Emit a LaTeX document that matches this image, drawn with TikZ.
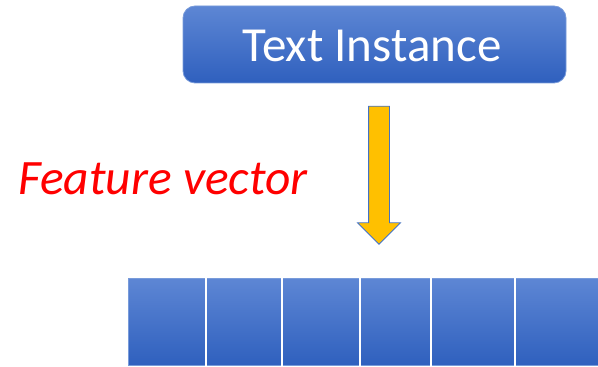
\documentclass[tikz,border=0pt]{standalone}
\usepackage{fontspec}
\setmainfont{Carlito}
\usetikzlibrary{shapes.arrows}

\definecolor{boxtop}{RGB}{93,134,212}
\definecolor{boxbot}{RGB}{47,96,190}
\definecolor{boxline}{RGB}{120,155,218}
\definecolor{arrowfill}{RGB}{255,192,0}
\definecolor{arrowline}{RGB}{68,114,196}

\tikzset{
  bluebox/.style={top color=boxtop, bottom color=boxbot, draw=boxline, line width=0.8pt},
  cell/.style={bluebox, anchor=south west, inner sep=0pt, minimum height=87pt},
}

\begin{document}
\begin{tikzpicture}[x=1pt, y=1pt]
  \useasboundingbox (0,0) rectangle (598,367);

  % Input block on top
  \node[bluebox, rounded corners=12pt, minimum width=383pt, minimum height=77pt] (inst) at (374.5,322.5) {};
  \node[text=white, font=\fontsize{49}{49}\selectfont, anchor=base, inner sep=0pt]
        (insttext) at (372,305) {Text Instance};

  % Block arrow pointing down to the vector (shaft 20pt, head 42pt)
  \node[single arrow, rotate=-90, fill=arrowfill, draw=arrowline, line width=0.8pt,
        inner xsep=0pt, inner ysep=10pt, single arrow head extend=11pt,
        minimum height=138pt] (arr) at (379,197) {};

  % Label to the left of the arrow
  \node[text=red, font=\fontsize{49.5}{49.5}\selectfont\itshape, anchor=base west, inner sep=0pt]
        (feat) at (18,172) {Feature vector};

  % Vector cells (left edge, width)
  \foreach \x/\w [count=\i] in {128/77, 205/76, 281/78, 359/71, 430/84, 514/90} {
    \node[cell, minimum width=\w pt] (c\i) at (\x,1) {};
  }

  % White separators between neighbouring cells
  \foreach \i in {1,...,5} {
    \draw[white, line width=2pt] (c\i.north east) -- (c\i.south east);
  }
\end{tikzpicture}
\end{document}
